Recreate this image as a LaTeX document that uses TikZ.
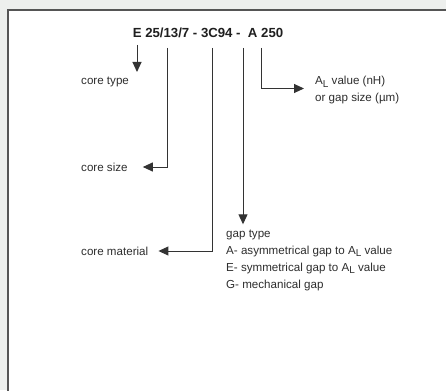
\documentclass[tikz,border=0pt]{standalone}
\usepackage{fontspec}
\setmainfont{Liberation Sans}
\usetikzlibrary{arrows.meta}
\definecolor{bgc}{HTML}{EDEFED}
\definecolor{framec}{HTML}{555555}
\definecolor{ln}{HTML}{333333}
\definecolor{txt}{HTML}{2E2E2E}
\newcommand{\ALsub}{A\raisebox{-0.45ex}{\fontsize{10}{10}\selectfont L}}
\begin{document}
\begin{tikzpicture}[x=1pt,y=-1pt,
  lbl/.style={inner sep=0pt, text=txt, font=\fontsize{11.6}{17}\selectfont},
  ttl/.style={inner sep=0pt, text=black!88, font=\fontsize{13.2}{15}\selectfont\bfseries},
  conn/.style={draw=ln, line width=1pt, -{Triangle[length=10pt,width=9pt]}},
]
\useasboundingbox (0,0) rectangle (446,390);
\fill[bgc] (0,0) rectangle (446,390);
\fill[white] (8,10) rectangle (446,390);
\draw[framec, line width=2pt] (8,392) -- (8,10) -- (448,10);

\node[ttl] (title) at (208,33) {E 25/13/7 - 3C94 -\ \ A 250};

\coordinate (s1) at (137,45);
\coordinate (s2) at (167,48);
\coordinate (s3) at (212,48);
\coordinate (s4) at (243,48);
\coordinate (s5) at (261,48);
\coordinate (t1) at (137,72);

\node[lbl, anchor=west] (ctype) at (81,82) {core type};
\node[lbl, anchor=west] (csize) at (81,167) {core size};
\node[lbl, anchor=west] (cmat) at (81,251) {core material};
\node[lbl, anchor=base west] (al) at (315,85) {\ALsub{} value (nH)};
\node[lbl, anchor=base west] (al2) at (315,102) {or gap size (µm)};
\node[lbl, anchor=base west, align=left] (gtype) at (226,288)
  {gap type\\A- asymmetrical gap to \ALsub{} value\\E- symmetrical gap to \ALsub{} value\\G- mechanical gap};

\draw[conn] (s1) -- (t1);
\draw[conn] (s2) |- ([xshift=15pt]csize.east);
\draw[conn] (s3) |- ([xshift=10pt]cmat.east);
\draw[conn, shorten >=5pt] (s4) -- (s4 |- gtype.north);
\draw[conn] (s5) |- ([xshift=-11pt,yshift=-3.5pt]al.base west);
\end{tikzpicture}
\end{document}
